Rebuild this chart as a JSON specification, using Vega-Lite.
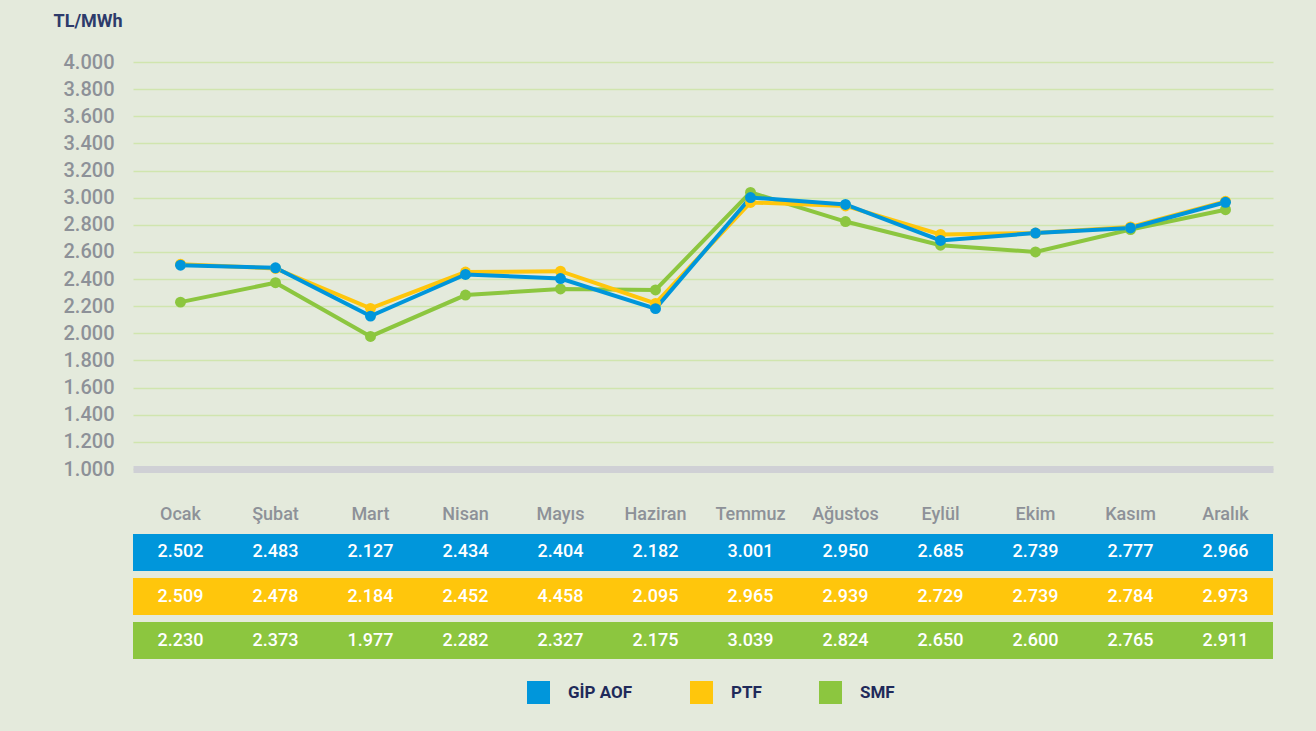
{
  "$schema": "https://vega.github.io/schema/vega-lite/v6.json",
  "background": "#e4eadc",
  "padding": {"left": 53, "top": 12, "right": 43, "bottom": 30},
  "config": {
    "view": {"stroke": null},
    "font": "Roboto",
    "concat": {"spacing": 26}
  },
  "data": {"values": [
    {"m":"Ocak","s":"SMF","v":2230,"t":"2.230"},
    {"m":"Şubat","s":"SMF","v":2373,"t":"2.373"},
    {"m":"Mart","s":"SMF","v":1977,"t":"1.977"},
    {"m":"Nisan","s":"SMF","v":2282,"t":"2.282"},
    {"m":"Mayıs","s":"SMF","v":2327,"t":"2.327"},
    {"m":"Haziran","s":"SMF","v":2320,"t":"2.175"},
    {"m":"Temmuz","s":"SMF","v":3039,"t":"3.039"},
    {"m":"Ağustos","s":"SMF","v":2824,"t":"2.824"},
    {"m":"Eylül","s":"SMF","v":2650,"t":"2.650"},
    {"m":"Ekim","s":"SMF","v":2600,"t":"2.600"},
    {"m":"Kasım","s":"SMF","v":2765,"t":"2.765"},
    {"m":"Aralık","s":"SMF","v":2911,"t":"2.911"},
    {"m":"Ocak","s":"PTF","v":2509,"t":"2.509"},
    {"m":"Şubat","s":"PTF","v":2478,"t":"2.478"},
    {"m":"Mart","s":"PTF","v":2184,"t":"2.184"},
    {"m":"Nisan","s":"PTF","v":2452,"t":"2.452"},
    {"m":"Mayıs","s":"PTF","v":2458,"t":"4.458"},
    {"m":"Haziran","s":"PTF","v":2220,"t":"2.095"},
    {"m":"Temmuz","s":"PTF","v":2965,"t":"2.965"},
    {"m":"Ağustos","s":"PTF","v":2939,"t":"2.939"},
    {"m":"Eylül","s":"PTF","v":2729,"t":"2.729"},
    {"m":"Ekim","s":"PTF","v":2739,"t":"2.739"},
    {"m":"Kasım","s":"PTF","v":2784,"t":"2.784"},
    {"m":"Aralık","s":"PTF","v":2973,"t":"2.973"},
    {"m":"Ocak","s":"GİP AOF","v":2502,"t":"2.502"},
    {"m":"Şubat","s":"GİP AOF","v":2483,"t":"2.483"},
    {"m":"Mart","s":"GİP AOF","v":2127,"t":"2.127"},
    {"m":"Nisan","s":"GİP AOF","v":2434,"t":"2.434"},
    {"m":"Mayıs","s":"GİP AOF","v":2404,"t":"2.404"},
    {"m":"Haziran","s":"GİP AOF","v":2182,"t":"2.182"},
    {"m":"Temmuz","s":"GİP AOF","v":3001,"t":"3.001"},
    {"m":"Ağustos","s":"GİP AOF","v":2950,"t":"2.950"},
    {"m":"Eylül","s":"GİP AOF","v":2685,"t":"2.685"},
    {"m":"Ekim","s":"GİP AOF","v":2739,"t":"2.739"},
    {"m":"Kasım","s":"GİP AOF","v":2777,"t":"2.777"},
    {"m":"Aralık","s":"GİP AOF","v":2966,"t":"2.966"}
  ]},
  "vconcat": [
    {
      "width": 1140,
      "height": 407,
      "encoding": {
        "x": {"field": "m", "type": "ordinal", "sort": ["Ocak","Şubat","Mart","Nisan","Mayıs","Haziran","Temmuz","Ağustos","Eylül","Ekim","Kasım","Aralık"],
              "scale": {"type": "point", "padding": 0.5},
              "axis": {"labels": false, "ticks": false, "title": null, "domainColor": "#cfd0d5", "domainWidth": 7}},
        "y": {"field": "v", "type": "quantitative", "scale": {"domain": [1000, 4000], "nice": false, "zero": false},
              "axis": {"values": [1000,1200,1400,1600,1800,2000,2200,2400,2600,2800,3000,3200,3400,3600,3800,4000],
                       "labelExpr": "replace(format(datum.value, ','), ',', '.')",
                       "labelFontSize": 20, "labelFontWeight": 500, "labelColor": "#8d9198", "labelPadding": 19,
                       "ticks": false, "domain": false,
                       "gridColor": "#d0e5ae", "gridWidth": 1.5,
                       "title": "TL/MWh", "titleAngle": 0, "titleAlign": "left", "titleBaseline": "middle",
                       "titleX": -80, "titleY": -41, "titleFontSize": 18, "titleFontWeight": "bold", "titleColor": "#2d3b6b"}},
        "color": {"field": "s", "type": "nominal",
                  "scale": {"domain": ["GİP AOF","PTF","SMF"], "range": ["#0096db","#ffc60c","#8cc63f"]},
                  "legend": {"title": null, "orient": "none", "legendX": 394, "legendY": 619, "direction": "horizontal", "symbolType": "square",
                             "symbolSize": 529, "symbolStrokeWidth": 0, "symbolOpacity": 1, "labelFontSize": 17, "labelFontWeight": "bold",
                             "labelColor": "#1f2a5a", "labelOffset": 18, "columnPadding": 57, "padding": 0}}
      },
      "layer": [
        {"mark": {"type": "line", "strokeWidth": 4}},
        {"mark": {"type": "point", "filled": true, "size": 120, "opacity": 1}}
      ]
    },
    {
      "width": 1140,
      "height": 125,
      "encoding": {
        "x": {"field": "m", "type": "ordinal", "sort": ["Ocak","Şubat","Mart","Nisan","Mayıs","Haziran","Temmuz","Ağustos","Eylül","Ekim","Kasım","Aralık"],
              "scale": {"type": "band", "paddingInner": 0, "paddingOuter": 0},
              "axis": {"orient": "top", "ticks": false, "domain": false, "title": null, "labelAngle": 0,
                       "labelFontSize": 18, "labelFontWeight": 500, "labelColor": "#8d9198", "labelPadding": 11}},
        "y": {"field": "s", "type": "nominal", "scale": {"domain": ["GİP AOF","PTF","SMF"], "paddingInner": 0.16, "paddingOuter": 0},
              "axis": null}
      },
      "layer": [
        {"mark": {"type": "rect"},
         "encoding": {"color": {"field": "s", "type": "nominal",
                  "scale": {"domain": ["GİP AOF","PTF","SMF"], "range": ["#0096db","#ffc60c","#8cc63f"]},
                  "legend": {"title": null, "orient": "none", "legendX": 394, "legendY": 619, "direction": "horizontal", "symbolType": "square",
                             "symbolSize": 529, "symbolStrokeWidth": 0, "symbolOpacity": 1, "labelFontSize": 17, "labelFontWeight": "bold",
                             "labelColor": "#1f2a5a", "labelOffset": 18, "columnPadding": 57, "padding": 0}}}},
        {"mark": {"type": "text", "color": "white", "fontSize": 18, "fontWeight": 500},
         "encoding": {"text": {"field": "t"}}}
      ]
    }
  ]
}
